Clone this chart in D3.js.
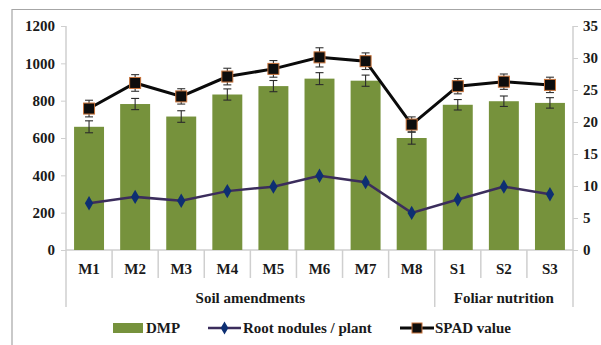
<!DOCTYPE html>
<html>
<head>
<meta charset="utf-8">
<script src="https://cdn.jsdelivr.net/npm/d3@7/dist/d3.min.js"></script>
<style>
  html, body { margin: 0; padding: 0; background: #fff; }
  svg { display: block; }
  text { font-family: "Liberation Serif", "Times New Roman", serif; font-weight: bold; fill: #1a1a1a; }
</style>
</head>
<body>
<svg id="chart" width="601" height="345"></svg>
<script>
// Treatments and their groups
const categories = ["M1", "M2", "M3", "M4", "M5", "M6", "M7", "M8", "S1", "S2", "S3"];
const groups = [
  { name: "Soil amendments", from: "M1", to: "M8" },
  { name: "Foliar nutrition", from: "S1", to: "S3" }
];

// Dry matter production (left axis) with error
const dmp    = [660, 782, 715, 833, 878, 918, 907, 600, 778, 797, 788];
const dmpErr = [32, 30, 31, 30, 30, 32, 30, 33, 28, 28, 28];

// Root nodules per plant (right axis)
const nodules = [7.3, 8.3, 7.7, 9.2, 9.9, 11.6, 10.6, 5.8, 7.9, 9.9, 8.7];

// SPAD value (right axis) with error
const spad    = [22.1, 26.1, 24.0, 27.1, 28.3, 30.1, 29.5, 19.6, 25.6, 26.3, 25.8];
const spadErr = [1.3, 1.3, 1.2, 1.3, 1.3, 1.5, 1.3, 1.2, 1.2, 1.2, 1.2];

const leftTicks  = [0, 200, 400, 600, 800, 1000, 1200];
const rightTicks = [0, 5, 10, 15, 20, 25, 30, 35];

const svg = d3.select("#chart");
const plot = { left: 66, right: 573, top: 26, bottom: 250 };

const x = d3.scaleBand().domain(categories).range([plot.left, plot.right])
  .paddingInner(0.35).paddingOuter(0.175);
const xStep = x.step();
const yL = d3.scaleLinear().domain([0, 1200]).range([plot.bottom, plot.top]);
const yR = d3.scaleLinear().domain([0, 35]).range([plot.bottom, plot.top]);

const axisGrey = "#cfcfcf";
const barColor = "#76923c";

// Outer frame (top and left edges)
svg.append("path")
  .attr("d", `M12,345 L12,9.5 L601,9.5`)
  .attr("fill", "none").attr("stroke", "#a6a6a6").attr("stroke-width", 1.2);

// Left axis
const gL = svg.append("g").attr("transform", `translate(${plot.left},0)`)
  .call(d3.axisLeft(yL).tickValues(leftTicks).tickSize(5).tickPadding(6).tickFormat(d3.format("d")));
gL.select(".domain").remove();
gL.selectAll("line").attr("stroke", axisGrey);
gL.selectAll("text").style("font-size", "15px").attr("fill", "#1a1a1a");

// Right axis
const gR = svg.append("g").attr("transform", `translate(${plot.right},0)`)
  .call(d3.axisRight(yR).tickValues(rightTicks).tickSize(5).tickPadding(5).tickFormat(d3.format("d")));
gR.select(".domain").remove();
gR.selectAll("line").attr("stroke", axisGrey);
gR.selectAll("text").style("font-size", "15px").attr("fill", "#1a1a1a");

// Vertical axis lines (extend down through the group label rows)
const groupBottom = 307, catBottom = 278;
svg.append("line").attr("x1", plot.left).attr("x2", plot.left)
  .attr("y1", yL(1200)).attr("y2", groupBottom).attr("stroke", axisGrey).attr("stroke-width", 1.5);
svg.append("line").attr("x1", plot.right).attr("x2", plot.right)
  .attr("y1", yR(35)).attr("y2", groupBottom).attr("stroke", axisGrey).attr("stroke-width", 1.5);

// Baseline
svg.append("line").attr("x1", plot.left).attr("x2", plot.right)
  .attr("y1", plot.bottom).attr("y2", plot.bottom).attr("stroke", axisGrey).attr("stroke-width", 1.5);

// Category separators
const groupStarts = new Set(groups.map(g => g.from));
categories.forEach((c, i) => {
  if (i === 0) return;
  const xs = x(c) - x.step() * x.paddingInner() / 2;
  svg.append("line").attr("x1", xs).attr("x2", xs)
    .attr("y1", plot.bottom).attr("y2", groupStarts.has(c) ? groupBottom : catBottom)
    .attr("stroke", axisGrey).attr("stroke-width", 1.5);
});

// Category labels
svg.append("g").selectAll("text").data(categories).join("text")
  .attr("x", d => x(d) + x.bandwidth() / 2).attr("y", 274)
  .attr("text-anchor", "middle").style("font-size", "15px").text(d => d);

// Group labels
svg.append("g").selectAll("text").data(groups).join("text")
  .attr("x", g => {
    const a = x(g.from) - xStep * x.paddingInner() / 2;
    const b = x(g.to) + x.bandwidth() + xStep * x.paddingInner() / 2;
    return (Math.max(a, plot.left) + Math.min(b, plot.right)) / 2;
  })
  .attr("y", 303).attr("text-anchor", "middle").style("font-size", "15px")
  .text(g => g.name);

// DMP bars
svg.append("g").selectAll("rect").data(categories).join("rect")
  .attr("x", d => x(d)).attr("width", x.bandwidth())
  .attr("y", (d, i) => yL(dmp[i])).attr("height", (d, i) => plot.bottom - yL(dmp[i]))
  .attr("fill", barColor);

// Error bars helper
function errorBars(vals, errs, scale, color) {
  const g = svg.append("g").attr("stroke", color).attr("stroke-width", 1.1);
  categories.forEach((c, i) => {
    const cx = x(c) + x.bandwidth() / 2;
    const y1 = scale(vals[i] + errs[i]), y2 = scale(vals[i] - errs[i]);
    g.append("line").attr("x1", cx).attr("x2", cx).attr("y1", y1).attr("y2", y2);
    g.append("line").attr("x1", cx - 4).attr("x2", cx + 4).attr("y1", y1).attr("y2", y1);
    g.append("line").attr("x1", cx - 4).attr("x2", cx + 4).attr("y1", y2).attr("y2", y2);
  });
}
errorBars(dmp, dmpErr, yL, "#2b2b2b");

// Root nodules line
const cxOf = c => x(c) + x.bandwidth() / 2;
svg.append("path")
  .datum(nodules)
  .attr("d", d3.line().x((d, i) => cxOf(categories[i])).y(d => yR(d)))
  .attr("fill", "none").attr("stroke", "#3b2d5c").attr("stroke-width", 2.5);
svg.append("g").selectAll("path").data(nodules).join("path")
  .attr("d", d3.symbol(d3.symbolDiamond, 60))
  .attr("transform", (d, i) => `translate(${cxOf(categories[i])},${yR(d)})`)
  .attr("fill", "#0d2f72");

// SPAD line
svg.append("path")
  .datum(spad)
  .attr("d", d3.line().x((d, i) => cxOf(categories[i])).y(d => yR(d)))
  .attr("fill", "none").attr("stroke", "#0a0a0a").attr("stroke-width", 3);
errorBars(spad, spadErr, yR, "#333");
svg.append("g").selectAll("rect").data(spad).join("rect")
  .attr("x", (d, i) => cxOf(categories[i]) - 5.5).attr("y", d => yR(d) - 5.5)
  .attr("width", 11).attr("height", 11)
  .attr("fill", "#0d0d0d").attr("stroke", "#c8733a").attr("stroke-width", 1);

// Legend
const lg = svg.append("g");
const ly = 328;
lg.append("rect").attr("x", 113).attr("y", ly - 5).attr("width", 30).attr("height", 10).attr("fill", barColor);
lg.append("text").attr("x", 146).attr("y", ly + 5).style("font-size", "15px").text("DMP");

lg.append("line").attr("x1", 208).attr("x2", 241).attr("y1", ly).attr("y2", ly)
  .attr("stroke", "#3b2d5c").attr("stroke-width", 2.5);
lg.append("path").attr("d", d3.symbol(d3.symbolDiamond, 50))
  .attr("transform", `translate(224.5,${ly})`).attr("fill", "#0d2f72");
lg.append("text").attr("x", 243).attr("y", ly + 5).style("font-size", "15px").text("Root nodules / plant");

lg.append("line").attr("x1", 400).attr("x2", 434).attr("y1", ly).attr("y2", ly)
  .attr("stroke", "#0a0a0a").attr("stroke-width", 3);
lg.append("rect").attr("x", 412).attr("y", ly - 5).attr("width", 10).attr("height", 10)
  .attr("fill", "#0d0d0d").attr("stroke", "#c8733a").attr("stroke-width", 1);
lg.append("text").attr("x", 435).attr("y", ly + 5).style("font-size", "15px").text("SPAD value");
</script>
</body>
</html>
